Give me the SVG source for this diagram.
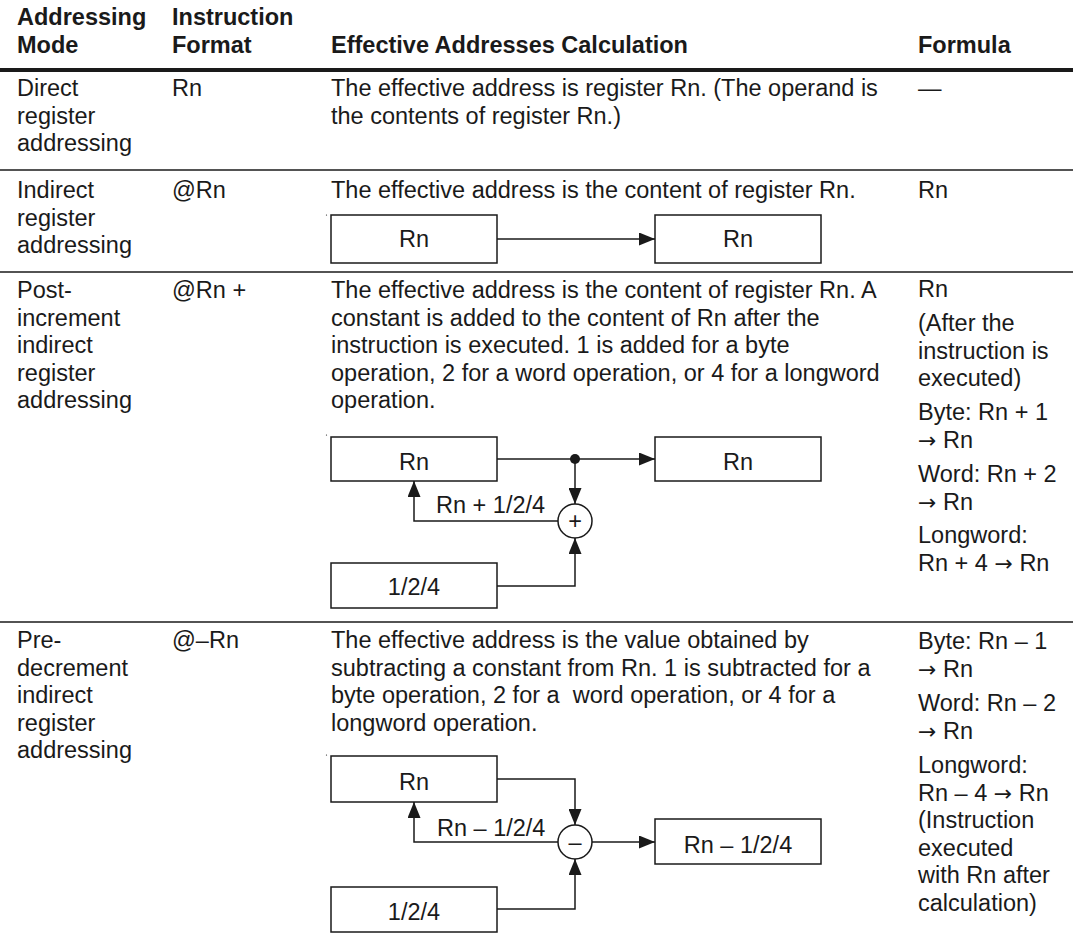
<svg xmlns="http://www.w3.org/2000/svg" width="1073" height="950" viewBox="0 0 1073 950">
<style>
text{font-family:"Liberation Sans",Arial,sans-serif;font-size:23.5px;fill:#1a1a1a}
.b{font-weight:bold}
.c{text-anchor:middle}
.ar{font-family:"DejaVu Sans",sans-serif;font-size:22px}
.box{fill:#fff;stroke:#1a1a1a;stroke-width:1.5}
.op{fill:#fff;stroke:#1a1a1a;stroke-width:1.5}
.con{fill:none;stroke:#1a1a1a;stroke-width:1.5}
.rule{stroke:#1a1a1a;stroke-width:1.5}
</style>
<defs>
<marker id="ah" markerUnits="userSpaceOnUse" markerWidth="16" markerHeight="13" refX="16" refY="6.5" orient="auto">
<path d="M0,0 L16,6.5 L0,13 z" fill="#1a1a1a"/>
</marker>
</defs>
<rect width="1073" height="950" fill="#fff"/>

<!-- header -->
<g id="header">
<text class="b" x="17" y="25">Addressing</text>
<text class="b" x="17" y="53">Mode</text>
<text class="b" x="172" y="25">Instruction</text>
<text class="b" x="172" y="53">Format</text>
<text class="b" x="331" y="53">Effective Addresses Calculation</text>
<text class="b" x="918" y="53">Formula</text>
</g>
<line x1="0" y1="70" x2="1073" y2="70" stroke="#1a1a1a" stroke-width="4"/>

<!-- row 1 -->
<g id="row1">
<text x="17" y="96">Direct</text>
<text x="17" y="123.5">register</text>
<text x="17" y="151">addressing</text>
<text x="172" y="96">Rn</text>
<text x="331" y="96">The effective address is register Rn. (The operand is</text>
<text x="331" y="123.5">the contents of register Rn.)</text>
<text x="918" y="96">—</text>
</g>
<line class="rule" x1="0" y1="170" x2="1073" y2="170"/>

<!-- row 2 -->
<g id="row2">
<text x="17" y="198">Indirect</text>
<text x="17" y="225.5">register</text>
<text x="17" y="253">addressing</text>
<text x="172" y="198">@Rn</text>
<text x="331" y="198">The effective address is the content of register Rn.</text>
<text x="918" y="198">Rn</text>
</g>
<circle cx="326.5" cy="215" r="0.6" fill="#1a1a1a"/>
<g id="r2-src"><rect class="box" x="331" y="215" width="166" height="48"/><text class="c" x="414" y="247">Rn</text></g>
<g id="r2-dst"><rect class="box" x="655" y="215" width="166" height="48"/><text class="c" x="738" y="247">Rn</text></g>
<line class="rule" x1="0" y1="272" x2="1073" y2="272"/>

<!-- row 3 -->
<g id="row3">
<text x="17" y="298">Post-</text>
<text x="17" y="325.5">increment</text>
<text x="17" y="353">indirect</text>
<text x="17" y="380.5">register</text>
<text x="17" y="408">addressing</text>
<text x="172" y="298">@Rn +</text>
<text x="331" y="298">The effective address is the content of register Rn. A</text>
<text x="331" y="325.5">constant is added to the content of Rn after the</text>
<text x="331" y="353">instruction is executed. 1 is added for a byte</text>
<text x="331" y="380.5">operation, 2 for a word operation, or 4 for a longword</text>
<text x="331" y="408">operation.</text>
<text x="918" y="297">Rn</text>
<text x="918" y="331">(After the</text>
<text x="918" y="358.5">instruction is</text>
<text x="918" y="386">executed)</text>
<text x="918" y="420">Byte: Rn + 1</text>
<text x="918" y="447.5"><tspan class="ar">→</tspan> Rn</text>
<text x="918" y="482">Word: Rn + 2</text>
<text x="918" y="509.5"><tspan class="ar">→</tspan> Rn</text>
<text x="918" y="543">Longword:</text>
<text x="918" y="570.5">Rn + 4 <tspan class="ar">→</tspan> Rn</text>
</g>
<circle cx="326.5" cy="435" r="0.6" fill="#1a1a1a"/>
<g id="r3-rn"><rect class="box" x="331" y="437" width="166" height="44"/><text class="c" x="414" y="470">Rn</text></g>
<g id="r3-out"><rect class="box" x="655" y="437" width="166" height="44"/><text class="c" x="738" y="470">Rn</text></g>
<g id="r3-const"><rect class="box" x="331" y="563" width="166" height="45"/><text class="c" x="414" y="595">1/2/4</text></g>
<g id="r3-add"><circle class="op" cx="575" cy="521" r="17"/><text class="c" x="575" y="529">+</text></g>
<text x="436" y="513">Rn + 1/2/4</text>
<line class="rule" x1="0" y1="622" x2="1073" y2="622"/>

<!-- row 4 -->
<g id="row4">
<text x="17" y="648">Pre-</text>
<text x="17" y="675.5">decrement</text>
<text x="17" y="703">indirect</text>
<text x="17" y="730.5">register</text>
<text x="17" y="758">addressing</text>
<text x="172" y="648">@–Rn</text>
<text x="331" y="648">The effective address is the value obtained by</text>
<text x="331" y="675.5">subtracting a constant from Rn. 1 is subtracted for a</text>
<text x="331" y="703" xml:space="preserve">byte operation, 2 for a  word operation, or 4 for a</text>
<text x="331" y="730.5">longword operation.</text>
<text x="918" y="649">Byte: Rn – 1</text>
<text x="918" y="676.5"><tspan class="ar">→</tspan> Rn</text>
<text x="918" y="711">Word: Rn – 2</text>
<text x="918" y="738.5"><tspan class="ar">→</tspan> Rn</text>
<text x="918" y="773">Longword:</text>
<text x="918" y="800.5">Rn – 4 <tspan class="ar">→</tspan> Rn</text>
<text x="918" y="828">(Instruction</text>
<text x="918" y="855.5">executed</text>
<text x="918" y="883">with Rn after</text>
<text x="918" y="910.5">calculation)</text>
</g>
<circle cx="326.5" cy="755" r="0.6" fill="#1a1a1a"/>
<g id="r4-rn"><rect class="box" x="331" y="756" width="166" height="46"/><text class="c" x="414" y="790">Rn</text></g>
<g id="r4-out"><rect class="box" x="655" y="819" width="166" height="45"/><text class="c" x="738" y="853">Rn – 1/2/4</text></g>
<g id="r4-const"><rect class="box" x="331" y="887" width="166" height="45"/><text class="c" x="414" y="920">1/2/4</text></g>
<g id="r4-sub"><circle class="op" cx="575" cy="842" r="17"/><text class="c" x="575" y="850">–</text></g>
<text x="437" y="836">Rn – 1/2/4</text>

<!-- connectors -->
<g id="connectors">
<path class="con" d="M497,239 H655" marker-end="url(#ah)"/>
<path class="con" d="M497,459 H655" marker-end="url(#ah)"/>
<circle cx="575" cy="459" r="5" fill="#1a1a1a"/>
<path class="con" d="M575,459 V504" marker-end="url(#ah)"/>
<path class="con" d="M558,521 H414 V481" marker-end="url(#ah)"/>
<path class="con" d="M497,586 H575 V538" marker-end="url(#ah)"/>
<path class="con" d="M497,779 H575 V825" marker-end="url(#ah)"/>
<path class="con" d="M558,842 H414 V802" marker-end="url(#ah)"/>
<path class="con" d="M592,842 H655" marker-end="url(#ah)"/>
<path class="con" d="M497,909 H575 V859" marker-end="url(#ah)"/>
</g>
</svg>
